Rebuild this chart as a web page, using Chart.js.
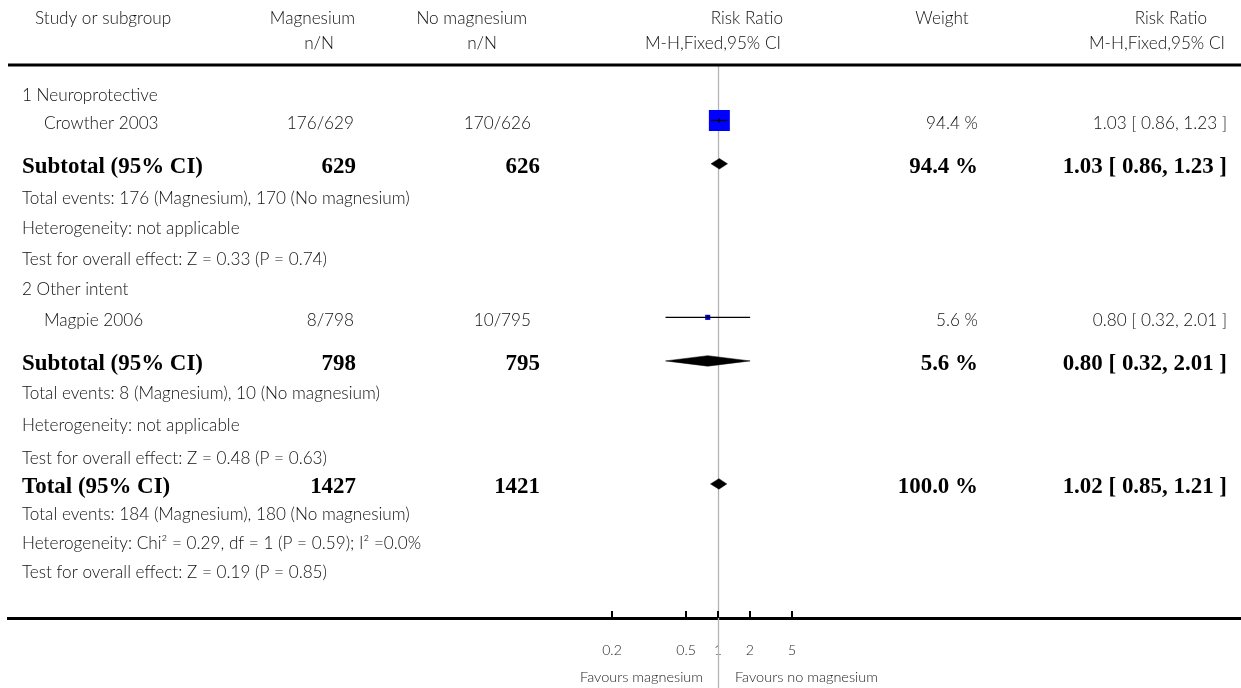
<!DOCTYPE html>
<html>
<head>
<meta charset="utf-8">
<script src="https://cdn.jsdelivr.net/npm/chart.js@4.4.0/dist/chart.umd.min.js"></script>
<style>
html,body{margin:0;padding:0;background:#fff;}
canvas{display:block;}
</style>
</head>
<body>
<canvas id="c" width="1241" height="688"></canvas>
<script>
// ---------------- DATA ----------------
const groupLabels = ['1 Neuroprotective', '2 Other intent'];
const studyNames = ['Crowther 2003', 'Magpie 2006'];
const studyGroup = [0, 1];
const studyMagnesium = ['176/629', '8/798'];
const studyNoMagnesium = ['170/626', '10/795'];
const studyRR = [1.03, 0.80];
const studyLo = [0.86, 0.32];
const studyHi = [1.23, 2.01];
const studyWeight = [94.4, 5.6];

const pooledNames = ['Subtotal (95% CI)', 'Subtotal (95% CI)', 'Total (95% CI)'];
const pooledMagnesiumN = [629, 798, 1427];
const pooledNoMagnesiumN = [626, 795, 1421];
const pooledRR = [1.03, 0.80, 1.02];
const pooledLo = [0.86, 0.32, 0.85];
const pooledHi = [1.23, 2.01, 1.21];
const pooledWeight = [94.4, 5.6, 100.0];
const pooledEventsMag = [176, 8, 184];
const pooledEventsNoMag = [170, 10, 180];
const heterogeneityText = ['not applicable', 'not applicable', 'Chi\u00B2 = 0.29, df = 1 (P = 0.59); I\u00B2 =0.0%'];
const testZ = ['0.33', '0.48', '0.19'];
const testP = ['0.74', '0.63', '0.85'];

const tickValues = [0.1, 0.5, 1, 2, 5];
const tickLabels = ['0.2', '0.5', '1', '2', '5'];
const favoursLeft = 'Favours magnesium';
const favoursRight = 'Favours no magnesium';

// ---------------- LAYOUT (positions / styles only) ----------------
const W = 1241, H = 688;
const PAD_LEFT = 8;
const NULL_PX = 718;
const PX_PER_DECADE = 106;
const AXIS_HEIGHT = 70;
const Y_MAX = 20;
// row slots in y-scale units, in table order
const rowSlot = [3.05, 3.9, 5.3, 6.4, 7.35, 8.35, 9.35, 10.27, 11.68, 12.7, 13.75, 14.8, 15.66, 16.62, 17.55, 18.48];
const headerSlot = [0.6, 1.42];
const headerLineSlot = 2.1;
const DIAMOND_HALF = 0.17;
const SQUARE_K = 2.16; // square side = K * sqrt(weight)

// Build table rows from data
const rows = [];
for (let g = 0; g < 3; g++) {
  if (g < 2) {
    rows.push({kind: 'group', text: groupLabels[g]});
    studyGroup.forEach((sg, i) => { if (sg === g) rows.push({kind: 'study', i}); });
  }
  rows.push({kind: 'pooled', i: g});
  rows.push({kind: 'note', text: 'Total events: ' + pooledEventsMag[g] + ' (Magnesium), ' + pooledEventsNoMag[g] + ' (No magnesium)'});
  rows.push({kind: 'note', text: 'Heterogeneity: ' + heterogeneityText[g]});
  rows.push({kind: 'note', text: 'Test for overall effect: Z = ' + testZ[g] + ' (P = ' + testP[g] + ')'});
}
rows.forEach((r, k) => r.slot = rowSlot[k]);
const studySlot = studyNames.map((_, i) => rows.find(r => r.kind === 'study' && r.i === i).slot);
const pooledSlot = pooledNames.map((_, i) => rows.find(r => r.kind === 'pooled' && r.i === i).slot);

// ---------------- DATASETS ----------------
const datasets = [];
studyNames.forEach((n, i) => {
  datasets.push({
    label: n + ' CI',
    data: [{x: studyLo[i], y: studySlot[i]}, {x: studyHi[i], y: studySlot[i]}],
    borderColor: '#000', borderWidth: 1.3, pointRadius: 0, fill: false, order: 0
  });
});
datasets.push({
  label: 'estimate',
  data: studyNames.map((n, i) => ({x: studyRR[i], y: studySlot[i]})),
  showLine: false, pointStyle: 'line', rotation: 90, pointRadius: 2,
  borderColor: '#000', borderWidth: 1.2, order: 1
});
datasets.push({
  label: 'squares',
  data: studyNames.map((n, i) => ({x: studyRR[i], y: studySlot[i]})),
  showLine: false, pointStyle: 'rect',
  pointRadius: ctx => SQUARE_K * Math.sqrt(studyWeight[ctx.dataIndex]) / Math.SQRT2,
  backgroundColor: '#0000ff', borderColor: '#0000ff', borderWidth: 0, order: 2
});
pooledNames.forEach((n, i) => {
  const y = pooledSlot[i];
  datasets.push({
    label: n + ' diamond ' + i,
    data: [
      {x: pooledLo[i], y: y},
      {x: pooledRR[i], y: y - DIAMOND_HALF},
      {x: pooledHi[i], y: y},
      {x: pooledRR[i], y: y + DIAMOND_HALF},
      {x: pooledLo[i], y: y}
    ],
    borderColor: '#000', backgroundColor: '#000', borderWidth: 0.5,
    pointRadius: 0, fill: 'shape', order: 3
  });
});

// ---------------- TEXT PLUGIN ----------------
const SANS = 'Lato, "Open Sans", sans-serif';
const SERIF = '"Liberation Serif", "Times New Roman", serif';
function fitSize(ctx, font, weight, text, target) {
  ctx.font = weight + ' 100px ' + font;
  return 100 * target / ctx.measureText(text).width;
}

const tablePlugin = {
  id: 'table',
  beforeDatasetsDraw(chart) {
    const ctx = chart.ctx;
    const xs = chart.scales.x, ys = chart.scales.y;
    const nx = Math.round(xs.getPixelForValue(1)) + 0.5;
    ctx.save();
    ctx.strokeStyle = '#b4b4b4';
    ctx.lineWidth = 1.3;
    ctx.beginPath();
    ctx.moveTo(nx, ys.getPixelForValue(headerLineSlot) + 1);
    ctx.lineTo(nx, H);
    ctx.stroke();
    ctx.restore();
  },
  afterDraw(chart) {
    const ctx = chart.ctx;
    const xs = chart.scales.x, ys = chart.scales.y;
    const py = s => ys.getPixelForValue(s);
    const normal = fitSize(ctx, SANS, '300', 'Total events: 176 (Magnesium), 170 (No magnesium)', 388);
    const small = fitSize(ctx, SANS, '300', favoursLeft, 123);
    const bold = fitSize(ctx, SERIF, 'bold', 'Subtotal (95% CI)', 181);
    const fN = '300 ' + normal.toFixed(2) + 'px ' + SANS;
    const fS = '300 ' + small.toFixed(2) + 'px ' + SANS;
    const fB = 'bold ' + bold.toFixed(2) + 'px ' + SERIF;
    ctx.save();
    ctx.textBaseline = 'middle';
    const txt = (t, x, y, align, font, color) => {
      ctx.font = font; ctx.textAlign = align; ctx.fillStyle = color || '#111';
      ctx.fillText(t, x, y);
    };
    const h1 = py(headerSlot[0]), h2 = py(headerSlot[1]);
    txt('Study or subgroup', 35, h1, 'left', fN);
    txt('Magnesium', 355, h1, 'right', fN);
    txt('n/N', 334, h2, 'right', fN);
    txt('No magnesium', 527, h1, 'right', fN);
    txt('n/N', 497, h2, 'right', fN);
    txt('Risk Ratio', 783, h1, 'right', fN);
    txt('M-H,Fixed,95% CI', 781, h2, 'right', fN);
    txt('Weight', 942, h1, 'center', fN);
    txt('Risk Ratio', 1207, h1, 'right', fN);
    txt('M-H,Fixed,95% CI', 1225, h2, 'right', fN);
    ctx.fillStyle = '#000';
    ctx.fillRect(PAD_LEFT, Math.round(py(headerLineSlot)) - 1.5, W - PAD_LEFT, 3);
    rows.forEach(r => {
      const y = py(r.slot) + 1;
      if (r.kind === 'group' || r.kind === 'note') {
        txt(r.text, 22, y, 'left', fN);
      } else if (r.kind === 'study') {
        const i = r.i;
        txt(studyNames[i], 44, y + 2, 'left', fN);
        txt(studyMagnesium[i], 354, y + 2, 'right', fN);
        txt(studyNoMagnesium[i], 531, y + 2, 'right', fN);
        txt(studyWeight[i].toFixed(1) + ' %', 978, y + 2, 'right', fN);
        txt(studyRR[i].toFixed(2) + ' [ ' + studyLo[i].toFixed(2) + ', ' + studyHi[i].toFixed(2) + ' ]', 1227, y + 2, 'right', fN);
      } else if (r.kind === 'pooled') {
        const i = r.i;
        const yb = y + 2;
        txt(pooledNames[i], 22, yb, 'left', fB, '#000');
        txt(String(pooledMagnesiumN[i]), 356, yb, 'right', fB, '#000');
        txt(String(pooledNoMagnesiumN[i]), 540, yb, 'right', fB, '#000');
        txt(pooledWeight[i].toFixed(1) + ' %', 978, yb, 'right', fB, '#000');
        txt(pooledRR[i].toFixed(2) + ' [ ' + pooledLo[i].toFixed(2) + ', ' + pooledHi[i].toFixed(2) + ' ]', 1227, yb, 'right', fB, '#000');
      }
    });
    ctx.fillStyle = '#000';
    xs.ticks.forEach(t => {
      const x = Math.round(xs.getPixelForValue(t.value));
      ctx.fillRect(x - 1, xs.top - 7, 2, 7);
    });
    const nx = xs.getPixelForValue(1);
    txt(favoursLeft, nx - 15, 677, 'right', fS, '#222');
    txt(favoursRight, nx + 17, 677, 'left', fS, '#222');
    ctx.restore();
  }
};

new Chart(document.getElementById('c'), {
  type: 'line',
  data: {datasets},
  options: {
    responsive: false,
    animation: false,
    events: [],
    layout: {autoPadding: false, padding: {left: PAD_LEFT, right: 0, top: 0, bottom: 0}},
    plugins: {legend: {display: false}, tooltip: {enabled: false}},
    elements: {line: {tension: 0}},
    scales: {
      x: {
        type: 'logarithmic',
        position: 'bottom',
        bounds: 'data',
        min: Math.pow(10, -(NULL_PX - PAD_LEFT) / PX_PER_DECADE),
        max: Math.pow(10, (W - NULL_PX) / PX_PER_DECADE),
        afterBuildTicks: s => { s.ticks = tickValues.map(v => ({value: v})); },
        afterFit: s => { s.height = AXIS_HEIGHT; },
        ticks: {
          autoSkip: false, maxRotation: 0, minRotation: 0, padding: 24,
          color: '#222', font: {family: 'Lato', size: 14, weight: '300'},
          callback: (v, i) => tickLabels[i]
        },
        grid: {display: true, drawOnChartArea: false, drawTicks: false},
        border: {display: true, color: '#000', width: 3}
      },
      y: {type: 'linear', min: 0, max: Y_MAX, reverse: true, display: false}
    }
  },
  plugins: [tablePlugin]
});
</script>
</body>
</html>
